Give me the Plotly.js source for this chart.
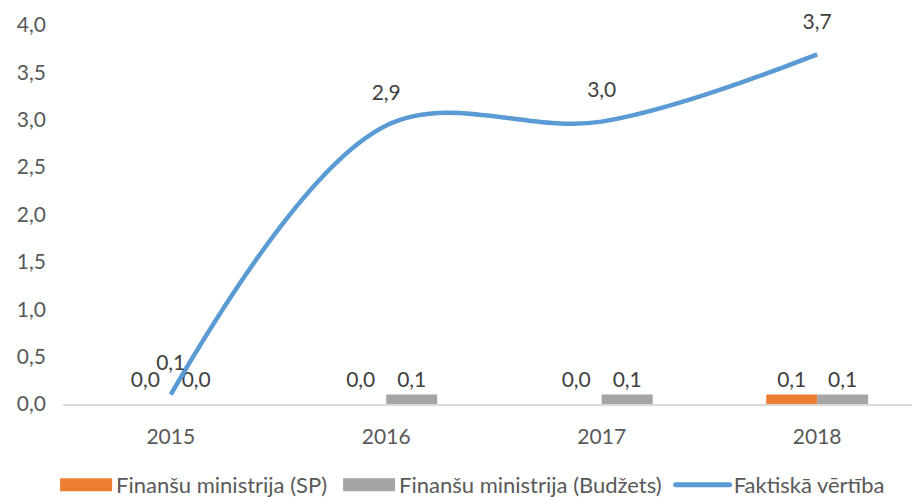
<!DOCTYPE html>
<html><head><meta charset="utf-8">
<script src="https://cdn.plot.ly/plotly-3.0.1.min.js"></script>
<style>html,body{margin:0;padding:0;background:#fff}#chart{width:912px;height:497px}</style>
</head><body><div id="chart"></div>
<script>
const years = ['2015', '2016', '2017', '2018'];
const seriesSP = [0.0, 0.0, 0.0, 0.1];
const seriesBudzets = [0.0, 0.1, 0.1, 0.1];
const seriesFakt = [0.1, 2.94, 2.98, 3.69];
const yTicks = [0, 0.5, 1, 1.5, 2, 2.5, 3, 3.5, 4];
const names = ['Finanšu ministrija (SP)', 'Finanšu ministrija (Budžets)', 'Faktiskā vērtība'];

const FONT = 'Lato, sans-serif';
const labelFont = {family: FONT, size: 21, color: '#404040'};
const traces = [
  {type: 'bar', x: years, y: seriesSP, name: names[0], marker: {color: '#ED7D31'},
   texttemplate: '%{y:.1f}', textposition: 'outside', cliponaxis: false, textfont: labelFont},
  {type: 'bar', x: years, y: seriesBudzets, name: names[1], marker: {color: '#A5A5A5'},
   texttemplate: '%{y:.1f}', textposition: 'outside', cliponaxis: false, textfont: labelFont},
  {type: 'scatter', mode: 'lines+markers+text', x: years, y: seriesFakt, name: names[2],
   line: {color: '#5B9BD5', width: 4.5, shape: 'spline', smoothing: 1},
   marker: {size: 30, color: 'rgba(0,0,0,0)'},
   texttemplate: '%{y:.1f}', textposition: 'top center',
   cliponaxis: false, textfont: labelFont}
];
const layout = {
  width: 912, height: 497,
  margin: {l: 63, r: 0, t: 25, b: 93},
  paper_bgcolor: '#fff', plot_bgcolor: '#fff',
  separators: ',.',
  barmode: 'group', bargap: 0.527, bargroupgap: 0,
  font: {family: FONT, color: '#595959'},
  showlegend: true,
  legend: {orientation: 'h', xref: 'container', yref: 'container', x: 0.976, xanchor: 'right',
           y: 0.024, yanchor: 'middle', font: {family: FONT, size: 22, color: '#595959'},
           itemwidth: 57, tracegroupgap: 0},
  xaxis: {type: 'category', range: [-0.5, 3.44], showgrid: false, showline: true, linecolor: '#D9D9D9',
          linewidth: 1.5, ticks: '', tickfont: {family: FONT, size: 21, color: '#595959'},
          ticklabelstandoff: 13, zeroline: false, fixedrange: true},
  yaxis: {range: [0, 4], tickvals: yTicks, tickformat: '.1f', showgrid: false, zeroline: false,
          showline: false, ticks: '', tickfont: {family: FONT, size: 21, color: '#595959'},
          ticklabelstandoff: 16, fixedrange: true}
};
Plotly.newPlot('chart', traces, layout, {displayModeBar: false, staticPlot: true}).then(function (gd) {
  // wide legend swatches like the original, ending just before each label
  gd.querySelectorAll('.legend .traces').forEach(function (item, i) {
    const txt = item.querySelector('.legendtext');
    const tx = parseFloat(txt.getAttribute('x')) || 0;
    if (i < 2) {
      item.querySelectorAll('.legendpoints path').forEach(function (p) {
        p.removeAttribute('transform');
        p.setAttribute('d', 'M' + (tx - 56) + ',-6.5h52v13h-52Z');
      });
    } else {
      item.querySelectorAll('.legendlines path').forEach(function (p) {
        p.removeAttribute('transform');
        p.setAttribute('d', 'M' + (tx - 58) + ',0h54');
        p.style.strokeWidth = '5px';
        p.style.strokeLinecap = 'round';
      });
      item.querySelectorAll('.legendpoints path').forEach(function (p) { p.style.display = 'none'; });
    }
  });
  // bar value labels sit at a common height above the baseline
  const yBase = gd._fullLayout._size.t + gd._fullLayout._size.h;
  gd.querySelectorAll('.barlayer .point text').forEach(function (t) {
    const bb = t.getBBox();
    const ctm = t.getCTM();
    const cy = bb.y + bb.height / 2 + (ctm ? ctm.f : 0);
    const dy = (yBase - 26) - cy;
    const tr = t.getAttribute('transform') || '';
    t.setAttribute('transform', 'translate(0,' + dy + ') ' + tr);
  });
});
</script></body></html>
